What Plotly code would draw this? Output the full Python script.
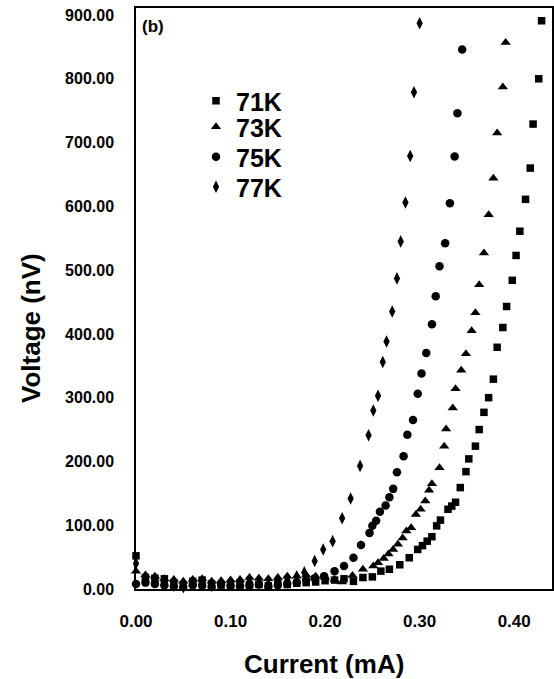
import plotly.graph_objects as go

# ---- data (Current in mA, Voltage in nV) ----
x_71K = [0.00, 0.01, 0.02, 0.03, 0.04, 0.05, 0.06, 0.07, 0.08, 0.09, 0.10, 0.11, 0.12, 0.13, 0.14,
         0.15, 0.16, 0.17, 0.18, 0.19, 0.20, 0.21, 0.22, 0.23, 0.24, 0.250, 0.259, 0.268, 0.279,
         0.289, 0.298, 0.303, 0.308, 0.313, 0.318, 0.322, 0.330, 0.334, 0.338, 0.343, 0.349,
         0.352, 0.359, 0.363, 0.368, 0.373, 0.378, 0.382, 0.388, 0.392, 0.398, 0.402, 0.406,
         0.412, 0.417, 0.420, 0.426, 0.429]
y_71K = [52, 18, 17, 16, 10, 6, 12, 14, 8, 6, 5, 9, 6, 7, 5,
         9, 7, 9, 10, 11, 13, 14, 16, 12, 18, 19, 28, 31, 38,
         49, 62, 68, 75, 82, 99, 108, 125, 130, 136, 159, 184,
         204, 224, 250, 277, 300, 329, 379, 410, 443, 484, 523, 561,
         611, 660, 729, 800, 891]

x_73K = [0.00, 0.01, 0.02, 0.03, 0.04, 0.05, 0.06, 0.07, 0.08, 0.09, 0.10, 0.11, 0.12, 0.13, 0.14,
         0.15, 0.16, 0.17, 0.18, 0.19, 0.20, 0.21, 0.218, 0.229, 0.240, 0.251, 0.256, 0.262,
         0.267, 0.272, 0.277, 0.282, 0.286, 0.291, 0.296, 0.301, 0.306, 0.310, 0.313, 0.321,
         0.326, 0.328, 0.335, 0.338, 0.344, 0.349, 0.355, 0.359, 0.363, 0.368, 0.373, 0.378,
         0.382, 0.388, 0.391]
y_73K = [28, 22, 20, 16, 15, 12, 15, 16, 12, 13, 14, 15, 18, 17, 16,
         18, 20, 20, 22, 20, 18, 15, 11, 21, 31, 36, 41, 48,
         55, 62, 70, 80, 91, 96, 117, 125, 138, 155, 165, 190,
         224, 251, 284, 314, 343, 369, 405, 433, 477, 527, 587, 644,
         715, 787, 857]

x_75K = [0.00, 0.01, 0.02, 0.03, 0.04, 0.05, 0.06, 0.07, 0.08, 0.09, 0.10, 0.11, 0.12, 0.13, 0.14,
         0.15, 0.16, 0.17, 0.18, 0.189, 0.199, 0.210, 0.220, 0.230, 0.238, 0.247, 0.250, 0.254,
         0.258, 0.264, 0.268, 0.272, 0.276, 0.283, 0.287, 0.293, 0.298, 0.302, 0.307, 0.313,
         0.317, 0.321, 0.327, 0.332, 0.337, 0.340, 0.345]
y_75K = [8, 10, 8, 6, 4, 3, 6, 5, 3, 8, 5, 4, 6, 7, 4,
         6, 8, 10, 14, 17, 20, 28, 36, 49, 69, 88, 99, 107,
         121, 131, 144, 157, 183, 208, 242, 265, 306, 338, 370, 415,
         459, 506, 542, 605, 678, 746, 846]

x_77K = [0.00, 0.01, 0.02, 0.03, 0.04, 0.05, 0.06, 0.07, 0.08, 0.09, 0.10, 0.11, 0.12, 0.13, 0.14,
         0.15, 0.16, 0.17, 0.178, 0.189, 0.198, 0.208, 0.218, 0.227, 0.237, 0.246, 0.251,
         0.256, 0.261, 0.265, 0.271, 0.276, 0.280, 0.285, 0.290, 0.294, 0.300]
y_77K = [40, 14, 12, 10, 5, 3, 10, 8, 5, 8, 6, 10, 12, 10, 8,
         12, 14, 20, 26, 44, 62, 75, 111, 142, 193, 241, 280,
         303, 356, 388, 435, 487, 545, 606, 679, 779, 887]

series_names = ["71K", "73K", "75K", "77K"]
series_x = [x_71K, x_73K, x_75K, x_77K]
series_y = [y_71K, y_73K, y_75K, y_77K]
symbols = ["square", "triangle-up", "circle", "diamond-tall"]
sizes = [7.5, 9, 8.5, 9]

x_ticks = [0.0, 0.1, 0.2, 0.3, 0.4]
y_ticks = [0, 100, 200, 300, 400, 500, 600, 700, 800, 900]

FONT = "Arial, Liberation Sans, Helvetica, sans-serif"

# layout geometry (pixels)
L, R, T, B = 136, 2, 8, 90
W, H = 554, 679
PW, PH = W - L - R, H - T - B
legend_rows_px = [101, 127, 157, 187]
legend_left_px = 196

fig = go.Figure()
legend_ids = ["legend", "legend2", "legend3", "legend4"]
for name, xs, ys, sym, sz, lid in zip(series_names, series_x, series_y, symbols, sizes, legend_ids):
    fig.add_trace(go.Scatter(
        x=xs, y=ys, mode="markers", name=name, cliponaxis=False, legend=lid,
        marker=dict(symbol=sym, size=sz, color="black", line=dict(width=0)),
    ))

axis_common = dict(
    showline=True, linecolor="black", linewidth=1.5, mirror=True,
    showgrid=False, zeroline=False, ticks="",
    tickformat=".2f",
)

legend_layout = {}
for lid, row in zip(legend_ids, legend_rows_px):
    legend_layout[lid] = dict(
        x=(legend_left_px - L) / PW, y=(H - B - row) / PH,
        xanchor="left", yanchor="middle",
        bgcolor="rgba(0,0,0,0)", borderwidth=0,
        font=dict(family=FONT, size=25, color="black", weight="bold"),
        itemsizing="trace",
    )

fig.update_layout(
    width=W, height=H,
    margin=dict(l=L, r=R, t=T, b=B, autoexpand=False),
    paper_bgcolor="white", plot_bgcolor="white",
    showlegend=True,
    xaxis=dict(range=[0, 0.44], tickvals=x_ticks, ticklabelstandoff=16,
               tickfont=dict(family=FONT, size=17, color="black", weight="bold"),
               **axis_common),
    yaxis=dict(range=[0, 911], tickvals=y_ticks, ticklabelstandoff=17,
               tickfont=dict(family=FONT, size=16, color="black", weight="bold"),
               **axis_common),
    annotations=[
        dict(text="(b)", xref="paper", yref="paper", x=0.0, y=1.0,
             xanchor="left", yanchor="middle", xshift=4, yshift=-18, showarrow=False,
             font=dict(family=FONT, size=17, color="black", weight="bold")),
        dict(text="Current (mA)", xref="paper", yref="paper",
             x=(324 - L) / PW, y=0, xanchor="center", yanchor="middle",
             yshift=-(664 - (H - B)), showarrow=False,
             font=dict(family=FONT, size=26, color="black", weight="bold")),
        dict(text="Voltage (nV)", xref="paper", yref="paper",
             x=0, y=((H - B) - 328) / PH, xanchor="center", yanchor="middle",
             xshift=-(L - 31), textangle=-90, showarrow=False,
             font=dict(family=FONT, size=26, color="black", weight="bold")),
    ],
    **legend_layout,
)

fig.write_html(
    "out.html",
    config={"displayModeBar": False},
    post_script="document.body.style.margin='0';document.body.style.padding='0';",
)
